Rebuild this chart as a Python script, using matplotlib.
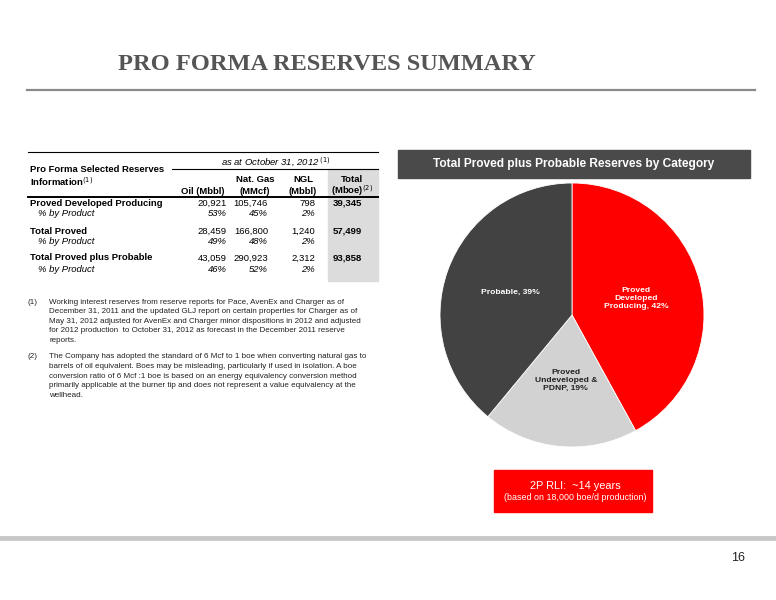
import matplotlib
matplotlib.use("Agg")
import matplotlib.pyplot as plt
from matplotlib.patches import Rectangle
from matplotlib import font_manager

plt.rcParams['font.family'] = ['Liberation Sans', 'DejaVu Sans']

# table data
row_names = ['Proved Developed Producing', 'Total Proved', 'Total Proved plus Probable']
oil = ['20,921', '28,459', '43,059']
gas = ['105,746', '166,800', '290,923']
ngl = ['798', '1,240', '2,312']
total = ['39,345', '57,499', '93,858']
oil_pct = ['53%', '49%', '46%']
gas_pct = ['45%', '48%', '52%']
ngl_pct = ['2%', '2%', '2%']

# pie data
categories = ['Proved\nDeveloped\nProducing', 'Proved\nUndeveloped &\nPDNP', 'Probable']
shares = [42, 19, 39]
pie_colors = ['#ff0000', '#d2d2d2', '#424242']
label_colors = ['white', '#222222', 'white']

notes = [
    ('(1)', ['Working interest reserves from reserve reports for Pace, AvenEx and Charger as of',
             'December 31, 2011 and the updated GLJ report on certain properties for Charger as of',
             'May 31, 2012 adjusted for AvenEx and Charger minor dispositions in 2012 and adjusted',
             'for 2012 production  to October 31, 2012 as forecast in the December 2011 reserve',
             'reports.']),
    ('(2)', ['The Company has adopted the standard of 6 Mcf to 1 boe when converting natural gas to',
             'barrels of oil equivalent. Boes may be misleading, particularly if used in isolation. A boe',
             'conversion ratio of 6 Mcf :1 boe is based on an energy equivalency conversion method',
             'primarily applicable at the burner tip and does not represent a value equivalency at the',
             'wellhead.']),
]

# narrow face for the footnotes if there is one
installed = {f.name for f in font_manager.fontManager.ttflist}
if 'Liberation Sans Narrow' in installed:
    note_font, note_fs = 'Liberation Sans Narrow', 6.9
else:
    note_font, note_fs = 'Liberation Sans', 5.8

fig = plt.figure(figsize=(7.76, 6.0), dpi=100)
ax = fig.add_axes([0, 0, 1, 1])
ax.set_xlim(0, 776)
ax.set_ylim(600, 0)
ax.axis('off')

# title + rules
ax.text(118, 64, 'PRO FORMA RESERVES SUMMARY', family='Liberation Serif', fontsize=17.6,
        weight='bold', color='#555555', va='center', ha='left')
ax.plot([27, 755], [90, 90], color='#8a8a8a', lw=1.6)
ax.plot([0, 776], [538, 538], color='#c8c8c8', lw=3.5)
ax.text(745, 558, '16', fontsize=9, ha='right', va='center', color='#222222')

# table
fs = 6.8
ax.add_patch(Rectangle((328, 169), 50, 112, color='#dcdcdc', zorder=0))
ax.plot([28, 378], [152, 152], color='black', lw=0.8)
ax.plot([172, 378], [169, 169], color='black', lw=0.8)
ax.plot([28, 378], [197, 197], color='black', lw=1.4)
ax.text(30, 170, 'Pro Forma Selected Reserves', fontsize=fs, weight='bold', va='center')
ax.text(30, 182, 'Information$^{(1)}$', fontsize=fs, weight='bold', va='center')
ax.text(276, 162, 'as at October 31, 2012$^{\\ (1)}$', fontsize=fs, style='italic', ha='center', va='center')
ax.text(203, 192, 'Oil (Mbbl)', fontsize=fs, weight='bold', ha='center', va='center')
ax.text(255, 180, 'Nat. Gas', fontsize=fs, weight='bold', ha='center', va='center')
ax.text(255, 192, '(MMcf)', fontsize=fs, weight='bold', ha='center', va='center')
ax.text(303, 180, 'NGL', fontsize=fs, weight='bold', ha='center', va='center')
ax.text(303, 192, '(Mbbl)', fontsize=fs, weight='bold', ha='center', va='center')
ax.text(352, 180, 'Total', fontsize=fs, weight='bold', ha='center', va='center')
ax.text(352, 191, '(Mboe)$^{(2)}$', fontsize=fs, weight='bold', ha='center', va='center')

row_y = [203, 231, 258]
for i, y in enumerate(row_y):
    ax.text(30, y, row_names[i], fontsize=fs, weight='bold', va='center')
    ax.text(38, y + 11, '% by Product', fontsize=fs, style='italic', va='center')
    ax.text(227, y, oil[i], fontsize=fs, ha='right', va='center')
    ax.text(268, y, gas[i], fontsize=fs, ha='right', va='center')
    ax.text(315, y, ngl[i], fontsize=fs, ha='right', va='center')
    ax.text(362, y, total[i], fontsize=fs, weight='bold', ha='right', va='center')
    ax.text(227, y + 11, oil_pct[i], fontsize=fs, style='italic', ha='right', va='center')
    ax.text(268, y + 11, gas_pct[i], fontsize=fs, style='italic', ha='right', va='center')
    ax.text(315, y + 11, ngl_pct[i], fontsize=fs, style='italic', ha='right', va='center')

# footnotes
y0 = 302
for mark, lines in notes:
    ax.text(28, y0, mark, family=note_font, fontsize=note_fs, va='center', color='#222222')
    for j, line in enumerate(lines):
        ax.text(49, y0 + j * 9.6, line, family=note_font, fontsize=note_fs, va='center', color='#222222')
    y0 += 55

# pie header
ax.add_patch(Rectangle((398, 150), 352, 28, color='#4a4a4a'))
ax.text(574, 164, 'Total Proved plus Probable Reserves by Category', fontsize=8.6,
        weight='bold', color='white', ha='center', va='center')

# RLI box
ax.add_patch(Rectangle((494, 470), 158, 42, color='#ff0000'))
ax.text(575, 486, '2P RLI:  ~14 years', fontsize=7.9, color='white', ha='center', va='center')
ax.text(575, 498, '(based on 18,000 boe/d production)', fontsize=6.4, color='white', ha='center', va='center')

# pie
cx, cy, r = 572, 315, 132
pax = fig.add_axes([(cx - r) / 776, (600 - cy - r) / 600, 2 * r / 776, 2 * r / 600])
labels = [f'{c}, {s}%' for c, s in zip(categories, shares)]
wedges, texts = pax.pie(shares, colors=pie_colors, startangle=90, counterclock=False,
                        labels=labels, labeldistance=0.5,
                        wedgeprops=dict(edgecolor='white', linewidth=0.6))
for t, c in zip(texts, label_colors):
    t.set_ha('center')
    t.set_va('center')
    t.set_color(c)
    t.set_fontsize(6.1)
    t.set_weight('bold')
    t.set_linespacing(1.15)
pax.set_xlim(-1, 1)
pax.set_ylim(-1, 1)

fig.savefig('out.png', dpi=100)
